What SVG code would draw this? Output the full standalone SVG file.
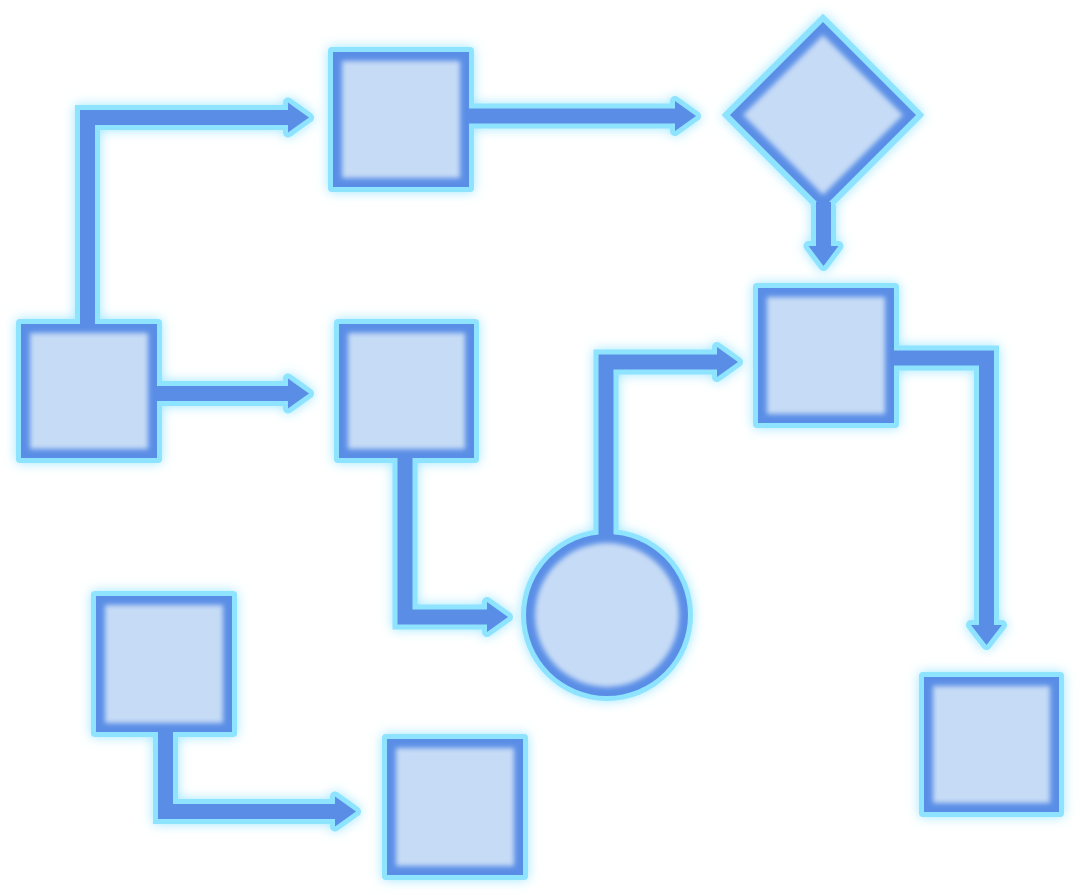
<svg xmlns="http://www.w3.org/2000/svg" width="1080" height="895" viewBox="0 0 1080 895">
<defs>
<filter id="glow" filterUnits="userSpaceOnUse" x="0" y="0" width="1080" height="895">
<feGaussianBlur in="SourceAlpha" stdDeviation="6" result="b"/>
<feFlood flood-color="#8ee3ff" flood-opacity="0.85"/>
<feComposite in2="b" operator="in" result="g"/>
<feMerge><feMergeNode in="g"/><feMergeNode in="SourceGraphic"/></feMerge>
</filter>
<filter id="soft" x="-10%" y="-10%" width="120%" height="120%">
<feGaussianBlur stdDeviation="2.5"/>
</filter>
</defs>
<style>
.halo{fill:#8ee3ff}
.core{fill:#5a8ee6}
.fill{fill:#c6dbf6;filter:url(#soft)}
.lhalo{fill:none;stroke:#8ee3ff;stroke-width:25;stroke-linejoin:miter;stroke-linecap:butt}
.lcore{fill:none;stroke:#5a8ee6;stroke-width:15;stroke-linejoin:miter;stroke-linecap:butt}
.ahalo{fill:#8ee3ff;stroke:#8ee3ff;stroke-width:10;stroke-linejoin:round}
.acore{fill:#5a8ee6}
</style>
<rect width="1080" height="895" fill="#ffffff"/>
<g filter="url(#glow)">
<g id="nodes">
<g id="n-top">
<rect class="halo" x="328" y="47" width="146" height="145" rx="4"/>
<rect class="core" x="333" y="52" width="136" height="135"/>
<rect class="fill" x="342" y="61" width="118" height="117"/>
</g>
<g id="n-decision">
<polygon class="halo" points="823,15 923,115 823,215 723,115" stroke="#8ee3ff" stroke-width="2" stroke-linejoin="round"/>
<polygon class="core" points="823,22 916,115 823,208 730,115"/>
<polygon class="fill" points="823,35 903,115 823,195 743,115"/>
</g>
<g id="n-left">
<rect class="halo" x="16" y="319" width="146" height="144" rx="4"/>
<rect class="core" x="21" y="324" width="136" height="134"/>
<rect class="fill" x="30" y="333" width="118" height="116"/>
</g>
<g id="n-mid">
<rect class="halo" x="334" y="319" width="145" height="144" rx="4"/>
<rect class="core" x="339" y="324" width="135" height="134"/>
<rect class="fill" x="348" y="333" width="117" height="116"/>
</g>
<g id="n-right">
<rect class="halo" x="753" y="283" width="146" height="145" rx="4"/>
<rect class="core" x="758" y="288" width="136" height="135"/>
<rect class="fill" x="767" y="297" width="118" height="117"/>
</g>
<g id="n-circle">
<circle class="halo" cx="607" cy="615" r="86"/>
<circle class="core" cx="607" cy="615" r="81"/>
<circle class="fill" cx="607" cy="615" r="72"/>
</g>
<g id="n-botleft">
<rect class="halo" x="91" y="591" width="146" height="146" rx="4"/>
<rect class="core" x="96" y="596" width="136" height="136"/>
<rect class="fill" x="105" y="605" width="118" height="118"/>
</g>
<g id="n-botmid">
<rect class="halo" x="382" y="734" width="146" height="146" rx="4"/>
<rect class="core" x="387" y="739" width="136" height="136"/>
<rect class="fill" x="396" y="748" width="118" height="118"/>
</g>
<g id="n-botright">
<rect class="halo" x="919" y="672" width="145" height="145" rx="4"/>
<rect class="core" x="924" y="677" width="135" height="135"/>
<rect class="fill" x="933" y="686" width="117" height="117"/>
</g>
</g>
<g id="connectors">
<g id="connector-halos">
<path class="lhalo" d="M87.5,324 V117.5 H290"/>
<polygon class="ahalo" points="288,102.5 309,117.5 288,132.5"/>
<path class="lhalo" d="M469,116 H677"/>
<polygon class="ahalo" points="675,101 696,116 675,131"/>
<path class="lhalo" d="M157,393.5 H290"/>
<polygon class="ahalo" points="288,378.5 309,393.5 288,408.5"/>
<path class="lhalo" d="M823.5,205 V248"/>
<polygon class="ahalo" points="808.5,246 823.5,266 838.5,246"/>
<path class="lhalo" d="M405,458 V617 H489"/>
<polygon class="ahalo" points="487,602 508,617 487,632"/>
<path class="lhalo" d="M606,533.5 V362 H719"/>
<polygon class="ahalo" points="717,347 738,362 717,377"/>
<path class="lhalo" d="M894,358 H986.5 V627"/>
<polygon class="ahalo" points="971,625 986.5,645 1002,625"/>
<path class="lhalo" d="M165.5,732 V811.5 H337"/>
<polygon class="ahalo" points="335,796.5 356,811.5 335,826.5"/>
</g>
<g id="connector-cores">
<path class="lcore" d="M87.5,327 V117.5 H290"/>
<polygon class="acore" points="288,102.5 309,117.5 288,132.5"/>
<path class="lcore" d="M466,116 H677"/>
<polygon class="acore" points="675,101 696,116 675,131"/>
<path class="lcore" d="M154,393.5 H290"/>
<polygon class="acore" points="288,378.5 309,393.5 288,408.5"/>
<path class="lcore" d="M823.5,202 V248"/>
<polygon class="acore" points="808.5,246 823.5,266 838.5,246"/>
<path class="lcore" d="M405,455 V617 H489"/>
<polygon class="acore" points="487,602 508,617 487,632"/>
<path class="lcore" d="M606,537 V362 H719"/>
<polygon class="acore" points="717,347 738,362 717,377"/>
<path class="lcore" d="M891,358 H986.5 V627"/>
<polygon class="acore" points="971,625 986.5,645 1002,625"/>
<path class="lcore" d="M165.5,729 V811.5 H337"/>
<polygon class="acore" points="335,796.5 356,811.5 335,826.5"/>
</g>
</g>
</g>
</svg>
